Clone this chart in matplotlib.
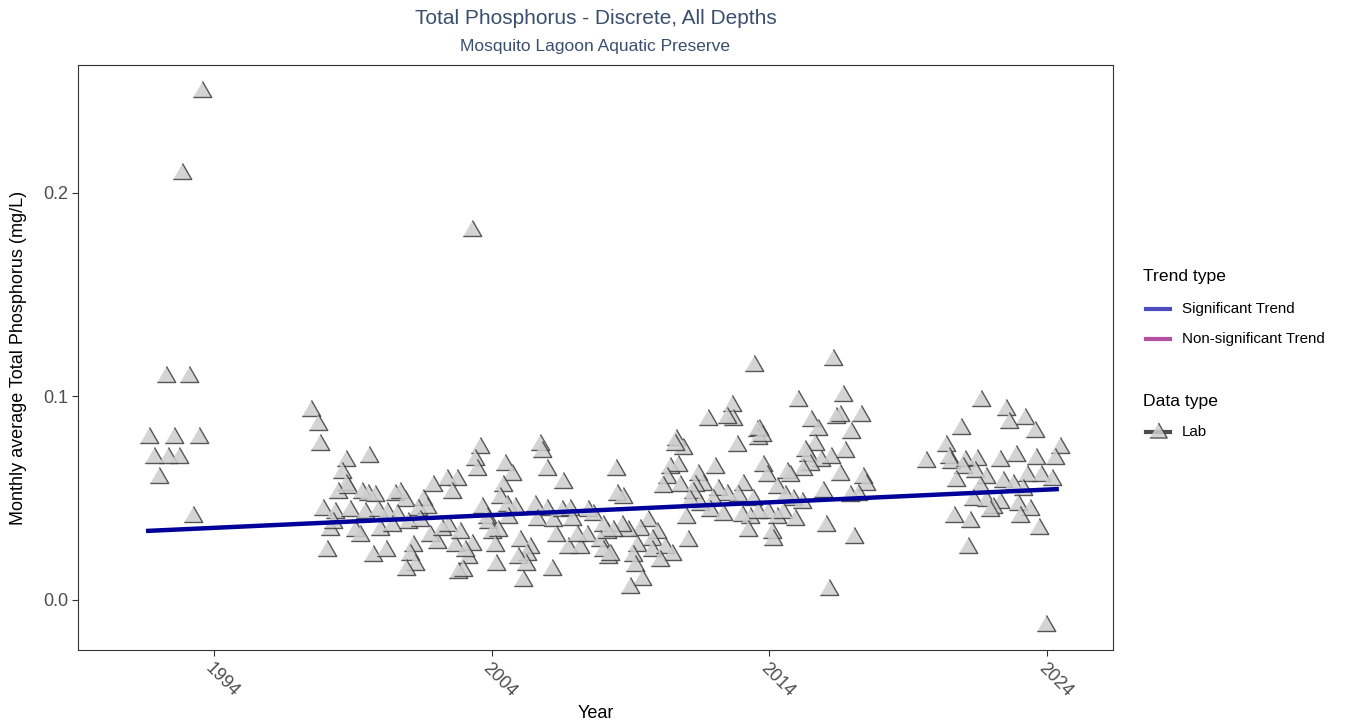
import matplotlib
matplotlib.use("Agg")
import matplotlib.pyplot as plt
from matplotlib.lines import Line2D
import numpy as np

plt.rcParams['font.family'] = ['Liberation Sans', 'DejaVu Sans']

# ---- data ----
years = [
    1991.64, 1992.54, 1993.45, 1991.84, 1992.34, 1992.74, 1992.0, 1992.27, 1993.1, 1993.24, 1992.85, 1993.55,
    1997.48, 1997.76, 1997.82, 1998.75, 1999.58, 1998.60, 1998.75, 1998.48, 1998.84, 1999.32,
    1999.56, 1999.80, 2000.52, 2000.70, 2000.88, 2001.90, 2002.38, 2002.74, 2002.56, 2001.51,
    1997.94, 1998.36, 1998.90, 1999.44, 1999.92, 2000.22, 2000.58, 2001.36, 2001.66, 1998.18,
    1998.30, 1999.08, 1999.26, 1999.98, 2000.40, 2001.00, 2001.42, 2001.78, 2002.02, 2002.20,
    2002.44, 2002.68, 1998.08, 1999.74, 2000.19, 2001.18, 2001.06, 2001.24, 2000.90, 2002.80,
    2003.58, 2003.40, 2003.48, 2004.48, 2004.72, 2005.74, 2005.80, 2005.98, 2006.58, 2004.42,
    2004.30, 2003.64, 2003.82, 2004.54, 2004.84, 2004.60, 2003.88, 2005.56, 2005.98, 2005.62,
    2006.22, 2006.52, 2006.82, 2006.88, 2007.48, 2007.66, 2008.02, 2004.00, 2004.24, 2002.86,
    2003.28, 2004.12, 2005.02, 2005.38, 2005.26, 2004.96, 2005.24, 2003.16, 2003.04, 2002.98,
    2004.16, 2005.14, 2006.16, 2006.32, 2006.76, 2007.18, 2007.06, 2007.42, 2007.90, 2008.02,
    2008.20, 2008.14, 2003.29,
    2013.45, 2012.64, 2012.70, 2012.46, 2011.80, 2012.82, 2013.54, 2013.60, 2010.64, 2010.90,
    2010.60, 2008.48, 2008.50, 2008.74, 2010.42, 2010.72, 2010.30, 2010.16, 2010.78, 2011.44,
    2012.04, 2011.62, 2011.32, 2011.26, 2012.16, 2012.46, 2013.06, 2012.88, 2013.42, 2011.14,
    2011.98, 2011.50, 2011.86, 2012.34, 2013.00, 2013.30, 2013.24, 2011.00, 2011.08, 2009.64,
    2009.34, 2009.94, 2008.92, 2008.68, 2008.38, 2008.26, 2009.22, 2009.76, 2009.76, 2010.24,
    2010.48, 2010.06, 2009.10, 2009.16, 2009.40, 2008.98,
    2016.30, 2016.64, 2015.05, 2015.52, 2016.40, 2016.54, 2017.29, 2015.76, 2016.96, 2013.64,
    2013.72, 2015.64, 2015.28, 2015.40, 2015.88, 2016.24, 2016.72, 2015.46, 2015.22, 2013.78,
    2013.90, 2014.62, 2014.74, 2016.54, 2017.38, 2017.48, 2014.26, 2014.56, 2014.86, 2015.16,
    2015.94, 2016.90, 2017.20, 2013.60, 2013.96, 2014.26, 2014.50, 2014.92, 2014.08, 2014.14,
    2016.06, 2017.04, 2016.16,
    2019.64, 2021.64, 2022.54, 2023.20, 2022.64, 2023.56, 2020.89, 2020.38, 2020.48, 2020.56,
    2021.04, 2021.49, 2022.30, 2022.88, 2023.62, 2024.46, 2024.28, 2020.96, 2021.40, 2021.82,
    2020.74, 2022.42, 2022.78, 2023.29, 2023.80, 2024.17, 2021.58, 2023.14, 2021.32, 2021.82,
    2022.30, 2022.06, 2021.94, 2022.96, 2023.38, 2023.02, 2020.65, 2021.22, 2023.72, 2021.14,
    2023.96,
]
values = [
    0.081, 0.081, 0.081, 0.0714, 0.0714, 0.0714, 0.0614, 0.111, 0.111, 0.042, 0.211, 0.251,
    0.0942, 0.0876, 0.0778, 0.0696, 0.0716, 0.0639, 0.0582, 0.0541, 0.0565, 0.0541,
    0.0532, 0.0524, 0.0532, 0.0541, 0.0500, 0.0573, 0.0606, 0.0606, 0.0541, 0.0508,
    0.0459, 0.0442, 0.0451, 0.0442, 0.0451, 0.0442, 0.0434, 0.0459, 0.0467, 0.0360,
    0.0393, 0.0352, 0.0328, 0.0360, 0.0377, 0.0393, 0.0401, 0.0328, 0.0295, 0.0360,
    0.0377, 0.0279, 0.0254, 0.0229, 0.0254, 0.0279, 0.0238, 0.0188, 0.0164, 0.0147,
    0.0762, 0.0704, 0.0655, 0.0680, 0.0631, 0.0778, 0.0741, 0.0652, 0.0590, 0.0573,
    0.0516, 0.0467, 0.0418, 0.0475, 0.0467, 0.0418, 0.0393, 0.0475, 0.0459, 0.0410,
    0.0401, 0.0451, 0.0459, 0.0410, 0.0451, 0.0434, 0.0377, 0.0344, 0.0352, 0.0344,
    0.0287, 0.0279, 0.0303, 0.0270, 0.0238, 0.0221, 0.0188, 0.0221, 0.0254, 0.0156,
    0.0188, 0.0107, 0.0164, 0.0328, 0.0270, 0.0270, 0.0328, 0.0328, 0.0303, 0.0254,
    0.0221, 0.0344, 0.1828,
    0.1163, 0.0966, 0.0901, 0.0909, 0.0901, 0.0770, 0.0844, 0.0806, 0.0803, 0.0757,
    0.0778, 0.0655, 0.0532, 0.0516, 0.0663, 0.0672, 0.0614, 0.0570, 0.0573, 0.0631,
    0.0663, 0.0582, 0.0573, 0.0541, 0.0557, 0.0532, 0.0582, 0.0524, 0.0508, 0.0500,
    0.0508, 0.0483, 0.0451, 0.0434, 0.0426, 0.0418, 0.0352, 0.0418, 0.0303, 0.0401,
    0.0360, 0.0344, 0.0352, 0.0377, 0.0352, 0.0238, 0.0279, 0.0311, 0.0254, 0.0270,
    0.0238, 0.0205, 0.0229, 0.0180, 0.0115, 0.0074,
    0.1196, 0.1016, 0.0991, 0.0893, 0.0909, 0.0917, 0.0917, 0.0852, 0.0835, 0.0852,
    0.0819, 0.0778, 0.0745, 0.0721, 0.0696, 0.0713, 0.0741, 0.0680, 0.0655, 0.0672,
    0.0623, 0.0639, 0.0623, 0.0631, 0.0614, 0.0582, 0.0565, 0.0524, 0.0508, 0.0492,
    0.0544, 0.0524, 0.0532, 0.0442, 0.0442, 0.0418, 0.0442, 0.0410, 0.0344, 0.0311,
    0.0377, 0.0319, 0.0066,
    0.0691, 0.0991, 0.0947, 0.0904, 0.0885, 0.0840, 0.0855, 0.0770, 0.0713, 0.0688,
    0.0696, 0.0704, 0.0699, 0.0721, 0.0708, 0.0762, 0.0708, 0.0663, 0.0642, 0.0614,
    0.0598, 0.0593, 0.0582, 0.0626, 0.0623, 0.0606, 0.0570, 0.0557, 0.0508, 0.0500,
    0.0491, 0.0467, 0.0450, 0.0483, 0.0459, 0.0421, 0.0421, 0.0397, 0.0364, 0.0270,
    -0.0112,
]
trend_years = [1991.55, 2024.43]
trend_values = [0.0339, 0.0545]

x_ticks = [1994, 2004, 2014, 2024]
y_ticks = [0.0, 0.1, 0.2]
y_tick_labels = ["0.0", "0.1", "0.2"]

title = "Total Phosphorus - Discrete, All Depths"
subtitle = "Mosquito Lagoon Aquatic Preserve"
trend_types = ["Significant Trend", "Non-significant Trend"]
trend_colors = ["#4b4bc0", "#b24fa0"]
data_types = ["Lab"]

# ---- figure ----
W, H = 1345, 728
fig = plt.figure(figsize=(W / 100, H / 100), dpi=100)
ax = fig.add_axes([78 / W, 1 - 650 / H, (1113 - 78) / W, (650 - 65) / H])

tri = [(-0.5, -0.433), (0.5, -0.433), (0.0, 0.433)]
ax.plot(years, values, linestyle='none', marker=tri, markersize=13.3,
        markerfacecolor='#cdcdcd', markeredgecolor='#3c3c3c', markeredgewidth=1.0,
        alpha=0.85, zorder=2)
ax.plot(trend_years, trend_values, color='#00009a', linewidth=3.2,
        solid_capstyle='butt', zorder=3)

ax.set_xlim(1989.1, 2026.38)
ax.set_ylim(-0.0246, 0.2629)
ax.set_xticks(x_ticks)
ax.set_xticklabels([str(t) for t in x_ticks], rotation=-45, ha='left', va='top',
                   rotation_mode='anchor')
ax.set_yticks(y_ticks)
ax.set_yticklabels(y_tick_labels)
ax.tick_params(axis='both', colors='#333333', labelcolor='#4d4d4d', labelsize=13,
               length=4, width=0.8, direction='out', pad=3)
for s in ax.spines.values():
    s.set_color('#333333')
    s.set_linewidth(0.8)

ax.set_xlabel("Year", fontsize=13)
ax.set_ylabel("Monthly average Total Phosphorus (mg/L)", fontsize=13)
ax.xaxis.set_label_coords(0.5, -(713 - 650) / (650 - 65))
ax.yaxis.set_label_coords(-(78 - 19) / (1113 - 78), 0.5)
ax.xaxis.label.set_va('center')
ax.yaxis.label.set_va('center')

cx = (78 + 1113) / 2 / W
fig.text(cx, 1 - 18 / H, title, ha='center', va='center', fontsize=15, color='#3a4f6e')
fig.text(cx, 1 - 46 / H, subtitle, ha='center', va='center', fontsize=12.5, color='#3a4f6e')

# ---- legend (manual, ggplot-like) ----
def fx(px):
    return px / W

def fy(py):
    return 1 - py / H

fig.text(fx(1143), fy(277), "Trend type", ha='left', va='center', fontsize=12.6)
for i, (lab, col) in enumerate(zip(trend_types, trend_colors)):
    yy = 309 + 30 * i
    fig.add_artist(Line2D([fx(1146), fx(1170)], [fy(yy), fy(yy)], color=col, linewidth=3,
                          transform=fig.transFigure))
    fig.text(fx(1182), fy(yy), lab, ha='left', va='center', fontsize=10.9)

fig.text(fx(1143), fy(401), "Data type", ha='left', va='center', fontsize=12.6)
for i, lab in enumerate(data_types):
    yy = 432 + 30 * i
    fig.add_artist(Line2D([fx(1146), fx(1170)], [fy(yy), fy(yy)], color='#3a3a3a',
                          linewidth=3, alpha=0.9, transform=fig.transFigure))
    fig.add_artist(Line2D([fx(1158)], [fy(yy - 2)], marker=tri, markersize=12.5,
                          markerfacecolor='#cdcdcd', markeredgecolor='#3c3c3c',
                          markeredgewidth=1.0, alpha=0.85, linestyle='none',
                          transform=fig.transFigure))
    fig.text(fx(1182), fy(yy), lab, ha='left', va='center', fontsize=10.9)

fig.savefig("out.png", dpi=100)
